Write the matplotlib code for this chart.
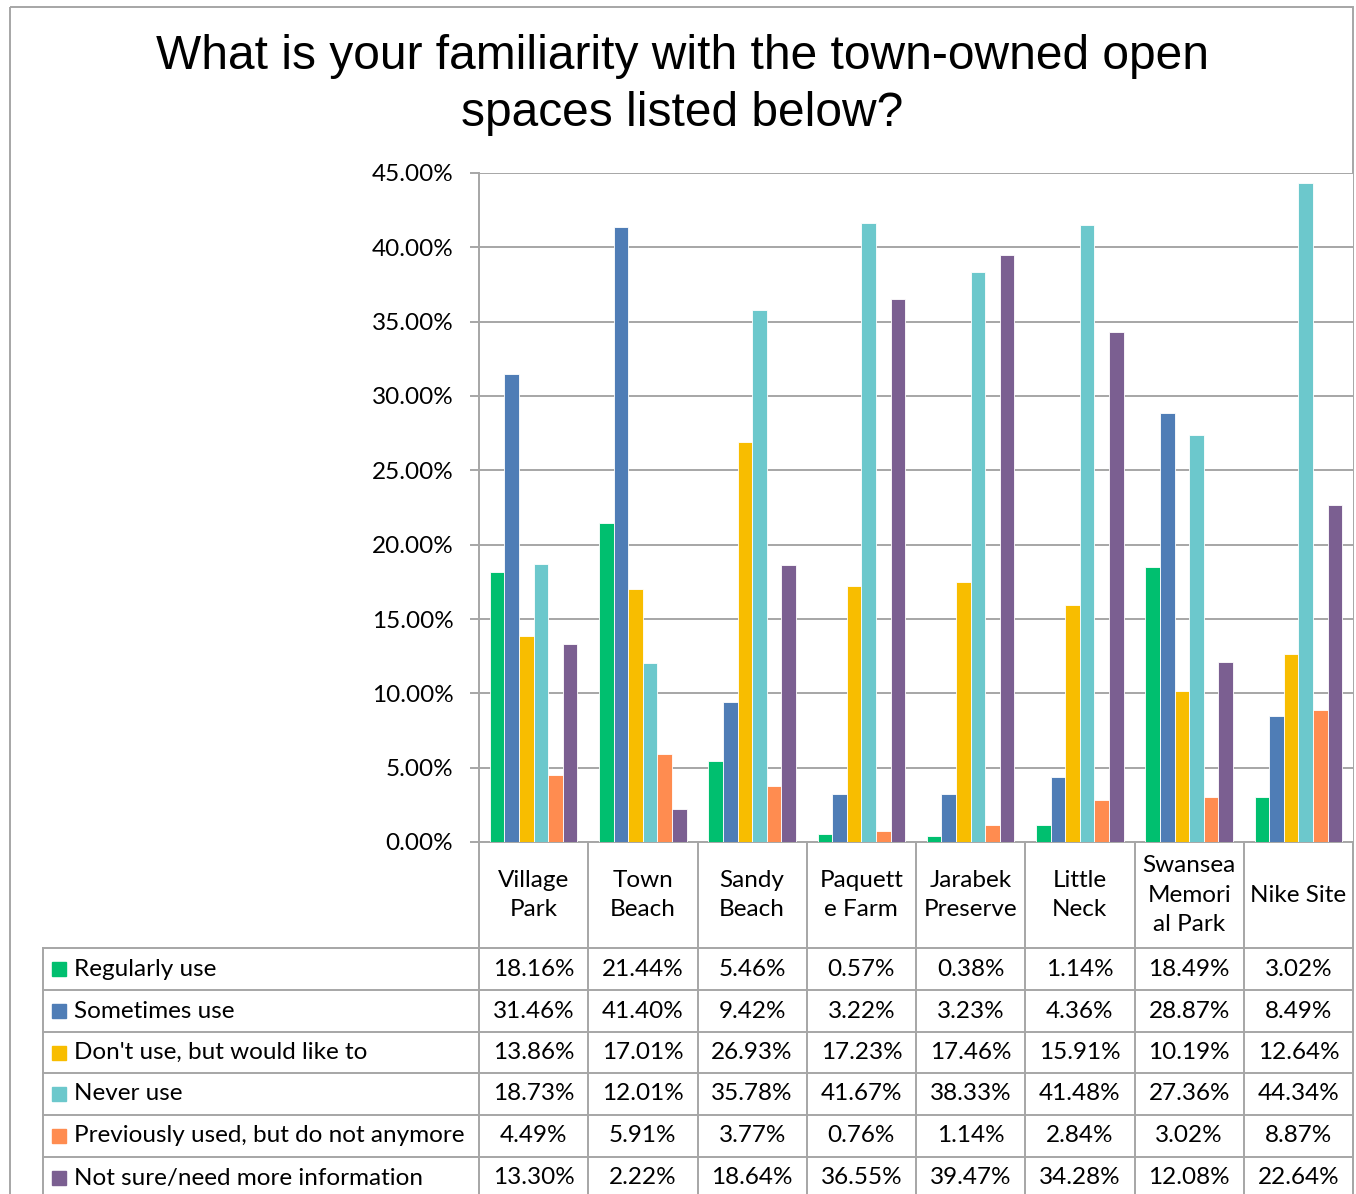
import numpy as np
import matplotlib
matplotlib.use("Agg")
import matplotlib.pyplot as plt
from matplotlib.patches import Rectangle

# Data
categories = ["Village\nPark", "Town\nBeach", "Sandy\nBeach", "Paquett\ne Farm",
              "Jarabek\nPreserve", "Little\nNeck", "Swansea\nMemori\nal Park", "Nike Site"]
series_names = ["Regularly use", "Sometimes use", "Don't use, but would like to",
                "Never use", "Previously used, but do not anymore",
                "Not sure/need more information"]
regularly = [18.16, 21.44, 5.46, 0.57, 0.38, 1.14, 18.49, 3.02]
sometimes = [31.46, 41.40, 9.42, 3.22, 3.23, 4.36, 28.87, 8.49]
would_like = [13.86, 17.01, 26.93, 17.23, 17.46, 15.91, 10.19, 12.64]
never = [18.73, 12.01, 35.78, 41.67, 38.33, 41.48, 27.36, 44.34]
previously = [4.49, 5.91, 3.77, 0.76, 1.14, 2.84, 3.02, 8.87]
not_sure = [13.30, 2.22, 18.64, 36.55, 39.47, 34.28, 12.08, 22.64]
series = [regularly, sometimes, would_like, never, previously, not_sure]
colors = ["#00BF6F", "#4F7DB6", "#F8BD00", "#6CC8CC", "#FF8C50", "#7B5F91"]
yticks = [0, 5, 10, 15, 20, 25, 30, 35, 40, 45]

W, H = 1356, 1194
fig = plt.figure(figsize=(W / 100, H / 100), dpi=100)
LINE = "#A6A6A6"
FONT = "Lato"
FS = 17.5

# pixel layout
px_left, px_right, px_top, px_bottom = 479, 1353, 173, 842
colw = (px_right - px_left) / len(categories)

ax = fig.add_axes([px_left / W, 1 - px_bottom / H,
                   (px_right - px_left) / W, (px_bottom - px_top) / H])
n = len(series)
bw = 1 / 7.5
x = np.arange(len(categories))
for i, (vals, c) in enumerate(zip(series, colors)):
    ax.bar(x + (i - (n - 1) / 2) * bw, vals, width=bw, color=c,
           edgecolor="white", linewidth=0.6, zorder=3)
ax.set_xlim(-0.5, len(categories) - 0.5)
ax.set_ylim(0, 45)
ax.set_yticks(yticks)
ax.set_yticklabels([f"{v:.2f}%" for v in yticks], fontfamily=FONT, fontsize=FS)
ax.yaxis.grid(True, color=LINE, linewidth=1.4, zorder=0)
ax.set_xticks([])
for s in ["top", "right"]:
    ax.spines[s].set_visible(False)
ax.spines["left"].set_color(LINE)
ax.spines["left"].set_linewidth(1.4)
ax.spines["bottom"].set_color(LINE)
ax.spines["bottom"].set_linewidth(1.4)
ax.tick_params(axis="y", length=6.5, width=1.4, color=LINE, pad=12)

# overlay in pixel coordinates for title, table, border
ov = fig.add_axes([0, 0, 1, 1], zorder=-1)
ov.set_xlim(0, W)
ov.set_ylim(H, 0)
ov.axis("off")
ov.patch.set_alpha(0)

ov.add_patch(Rectangle((10, 7), 1343, H, fill=False, edgecolor=LINE, linewidth=1.4))
ov.text(682, 85, "What is your familiarity with the town-owned open\nspaces listed below?",
        ha="center", va="center", fontfamily="Liberation Sans", fontsize=34.5,
        linespacing=1.32)

row_tops = [948, 990, 1032, 1073, 1115, 1157, 1199]
# horizontal lines
for y in row_tops[:-1]:
    ov.plot([43, px_right], [y, y], color=LINE, lw=1.4)
ov.plot([43, 43], [948, H], color=LINE, lw=1.4)
for i in range(len(categories) + 1):
    xe = px_left + i * colw
    ov.plot([xe, xe], [px_bottom, H], color=LINE, lw=1.4)

for j, cat in enumerate(categories):
    ov.text(px_left + (j + 0.5) * colw, 895, cat, ha="center", va="center",
            fontfamily=FONT, fontsize=FS, linespacing=1.5)

for r, (name, vals, c) in enumerate(zip(series_names, series, colors)):
    yc = (row_tops[r] + row_tops[r + 1]) / 2
    ov.add_patch(Rectangle((52, yc - 7), 14, 14, color=c))
    ov.text(74, yc, name, ha="left", va="center", fontfamily=FONT, fontsize=FS)
    for j, v in enumerate(vals):
        ov.text(px_left + (j + 0.5) * colw, yc, f"{v:.2f}%", ha="center",
                va="center", fontfamily=FONT, fontsize=FS)

fig.savefig("out.png", dpi=100, facecolor="white")
